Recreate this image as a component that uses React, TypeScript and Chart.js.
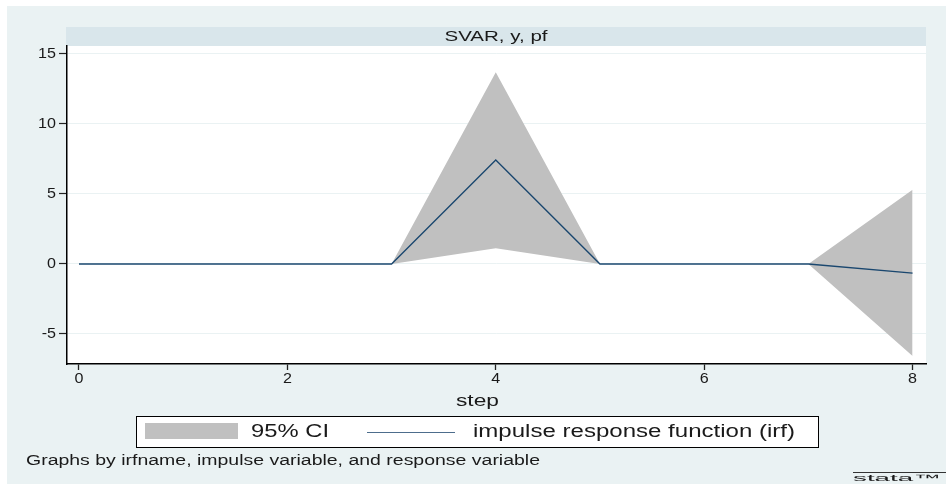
import React, { useEffect, useRef } from "react";
import { Chart, registerables } from "chart.js";

Chart.register(...registerables);

const steps = [0, 1, 2, 3, 4, 5, 6, 7, 8];
const ciUpper = [0, 0, 0, 0, 13.7, 0, 0, 0, 5.3];
const ciLower = [0, 0, 0, 0, 1.12, 0, 0, 0, -6.57];
const irf = [0, 0, 0, 0, 7.43, 0, 0, 0, -0.65];
const yTicks = [-5, 0, 5, 10, 15];
const xTicks = [0, 2, 4, 6, 8];
const panelTitle = "SVAR, y, pf";
const xTitle = "step";
const legendLabels = ["95% CI", "impulse response function (irf)"];
const noteText = "Graphs by irfname, impulse variable, and response variable";

const FONT = '"Liberation Sans", Arial, sans-serif';
const TXT = "#1a1a1a";

function drawStretched(ctx: CanvasRenderingContext2D, text: string, x: number, y: number, size: number, width: number, align: "left" | "center" | "right") {
  ctx.save();
  ctx.font = `${size}px ${FONT}`;
  const w = ctx.measureText(text).width;
  const s = width / w;
  ctx.translate(x, y);
  ctx.scale(s, 1);
  ctx.textAlign = align;
  ctx.textBaseline = "middle";
  ctx.fillStyle = TXT;
  ctx.fillText(text, 0, 0);
  ctx.restore();
}

function drawScaled(ctx: CanvasRenderingContext2D, text: string, x: number, y: number, size: number, sx: number, align: "left" | "center" | "right") {
  ctx.save();
  ctx.font = `${size}px ${FONT}`;
  ctx.translate(x, y);
  ctx.scale(sx, 1);
  ctx.textAlign = align;
  ctx.textBaseline = "middle";
  ctx.fillStyle = TXT;
  ctx.fillText(text, 0, 0);
  ctx.restore();
}

const decorPlugin = {
  id: "decor",
  beforeDraw(chart: any) {
    const ctx = chart.ctx as CanvasRenderingContext2D;
    const { left, right, top, bottom } = chart.chartArea;
    ctx.save();
    ctx.fillStyle = "#ffffff";
    ctx.fillRect(0, 0, chart.width, chart.height);
    ctx.fillStyle = "#eaf2f3";
    ctx.fillRect(7, 6, chart.width - 7, chart.height - 7);
    ctx.fillStyle = "#ffffff";
    ctx.fillRect(left, top, right - left, bottom - top);
    ctx.fillStyle = "#d9e6eb";
    ctx.fillRect(left - 1, 27, right - left + 1, top - 27);
    ctx.restore();
  },
  afterDraw(chart: any) {
    const ctx = chart.ctx as CanvasRenderingContext2D;
    const xs = chart.scales.x;
    const ys = chart.scales.y;
    drawStretched(ctx, panelTitle, 496, 36.5, 15, 103, "center");
    yTicks.forEach((v) => {
      drawScaled(ctx, String(v), 56, ys.getPixelForValue(v) + 0.5, 14, 1.15, "right");
    });
    xTicks.forEach((v) => {
      drawScaled(ctx, String(v), xs.getPixelForValue(v), 379, 14, 1.15, "center");
    });
    drawStretched(ctx, xTitle, 477.5, 401, 17, 43, "center");
    ctx.save();
    ctx.fillStyle = "#ffffff";
    ctx.fillRect(136, 416, 682, 31);
    ctx.strokeStyle = "#000000";
    ctx.lineWidth = 1;
    ctx.strokeRect(136.5, 416.5, 682, 31);
    ctx.fillStyle = "#c0c0c0";
    ctx.fillRect(145, 423, 93, 16);
    ctx.strokeStyle = "#4d6d8c";
    ctx.lineWidth = 1.2;
    ctx.beginPath();
    ctx.moveTo(367, 432.5);
    ctx.lineTo(455, 432.5);
    ctx.stroke();
    ctx.restore();
    drawStretched(ctx, legendLabels[0], 251, 432, 17.5, 78, "left");
    drawStretched(ctx, legendLabels[1], 473, 432, 17.5, 322, "left");
    drawStretched(ctx, noteText, 26, 461, 14, 514, "left");
    ctx.save();
    ctx.strokeStyle = "#333333";
    ctx.lineWidth = 1;
    ctx.beginPath();
    ctx.moveTo(853, 472.5);
    ctx.lineTo(946, 472.5);
    ctx.stroke();
    ctx.restore();
    drawStretched(ctx, "stata™", 853, 478.5, 9, 88, "left");
  },
};

export default function App() {
  const ref = useRef<HTMLCanvasElement | null>(null);
  useEffect(() => {
    document.body.style.margin = "0";
    const canvas = ref.current!;
    const chart = new Chart(canvas, {
      type: "line",
      data: {
        datasets: [
          {
            label: "upper",
            data: steps.map((s, i) => ({ x: s, y: ciUpper[i] })),
            borderWidth: 0,
            borderColor: "rgba(0,0,0,0)",
            backgroundColor: "#c0c0c0",
            pointRadius: 0,
            fill: "+1",
            tension: 0,
            order: 2,
          },
          {
            label: "lower",
            data: steps.map((s, i) => ({ x: s, y: ciLower[i] })),
            borderWidth: 0,
            borderColor: "rgba(0,0,0,0)",
            backgroundColor: "#c0c0c0",
            pointRadius: 0,
            fill: false,
            tension: 0,
            order: 1,
          },
          {
            label: "irf",
            data: steps.map((s, i) => ({ x: s, y: irf[i] })),
            borderWidth: 1.3,
            borderColor: "#1a476f",
            pointRadius: 0,
            fill: false,
            tension: 0,
            order: 0,
          },
        ],
      },
      options: {
        responsive: false,
        animation: false,
        layout: { padding: { top: 46, right: 20, left: 0, bottom: 0 } },
        plugins: { legend: { display: false }, tooltip: { enabled: false }, title: { display: false } },
        scales: {
          x: {
            type: "linear",
            min: -0.115,
            max: 8.129,
            afterBuildTicks: (s: any) => {
              s.ticks = xTicks.map((v) => ({ value: v }));
            },
            afterFit: (s: any) => {
              s.height = 121;
            },
            ticks: { display: false },
            grid: { drawOnChartArea: false, drawTicks: true, tickLength: 6, tickColor: "#222222", tickWidth: 1.3 },
            border: { display: true, color: "#000000", width: 1.5 },
          },
          y: {
            type: "linear",
            min: -7.143,
            max: 15.571,
            afterBuildTicks: (s: any) => {
              s.ticks = yTicks.map((v) => ({ value: v }));
            },
            afterFit: (s: any) => {
              s.width = 67;
            },
            ticks: { display: false },
            grid: { color: "#eaf2f3", lineWidth: 1, drawTicks: true, tickLength: 8, tickColor: "#222222", tickWidth: 1.2 },
            border: { display: true, color: "#000000", width: 1.5 },
          },
        },
      },
      plugins: [decorPlugin],
    });
    return () => chart.destroy();
  }, []);
  return <canvas ref={ref} width={946} height={485} style={{ display: "block" }} />;
}
